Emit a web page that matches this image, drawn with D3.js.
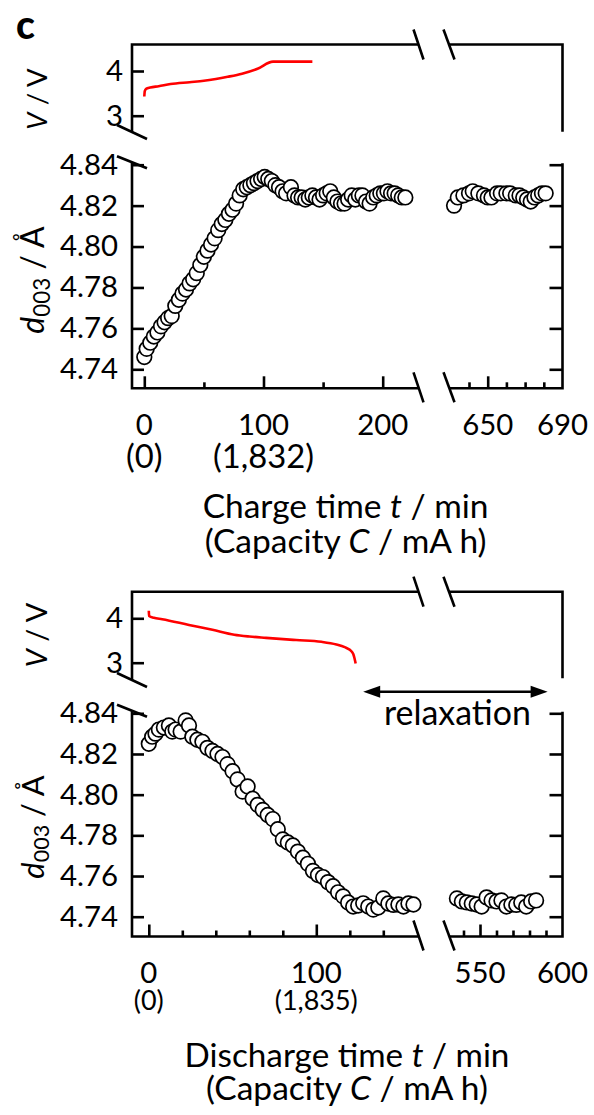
<!DOCTYPE html>
<html><head><meta charset="utf-8">
<script src="https://cdn.jsdelivr.net/npm/d3@7"></script>
<style>
body{margin:0;background:#fff}
svg{display:block;background:#fff}
text{font-family:Lato,'Open Sans','Noto Sans',sans-serif;fill:#000}
</style>
</head><body>
<svg id="chart" width="594" height="1115"></svg>
<script>
// ---------------- DATA ----------------
// Charge: d003 spacing vs charge time (min), left of axis break
const chargeTime = [0,2,5,8,11,14,17,20,23,26,29,32,35,38,41,44,47,50,53,56,59,62,65,68,71,74,77,80,83,86,89,92,95,98,101,104,107,110,113,116,119,123,126,129,132,135,138,141,144,147,150,153,156,159,162,165,168,171,174,177,180,183,186,189,192,195,198,201,204,207,210,213,216,219];
const chargeD = [4.746,4.750,4.753,4.756,4.758,4.761,4.763,4.765,4.766,4.771,4.774,4.777,4.779,4.782,4.784,4.787,4.791,4.795,4.798,4.801,4.804,4.808,4.811,4.813,4.816,4.818,4.821,4.825,4.828,4.829,4.830,4.831,4.832,4.833,4.834,4.833,4.832,4.830,4.829,4.827,4.826,4.829,4.825,4.824,4.824,4.823,4.824,4.825,4.824,4.823,4.825,4.826,4.827,4.824,4.822,4.821,4.821,4.823,4.825,4.823,4.825,4.825,4.822,4.821,4.824,4.825,4.826,4.826,4.827,4.826,4.826,4.825,4.824,4.824];
// Charge: right of axis break
const chargeTimeLate = [632,634,637,640,642,645,648,650,652,655,657,660,662,665,667,669,671,673,675,677,679,681];
const chargeDLate = [4.820,4.824,4.825,4.826,4.827,4.826,4.825,4.824,4.824,4.826,4.826,4.826,4.826,4.825,4.825,4.824,4.823,4.822,4.824,4.825,4.826,4.826];
// Charge voltage
const chargeVTime = [0,0.4,1.5,5,12,22,38,50,60,70,82,95,108,141];
const chargeV = [3.43,3.55,3.60,3.63,3.66,3.71,3.75,3.78,3.82,3.87,3.94,4.05,4.21,4.21];

// Discharge: d003 vs discharge time
const dischargeTime = [0,2,4,6,9,12,14,16,19,22,24,26,29,32,35,38,41,44,47,50,53,56,59,62,65,68,71,74,77,80,83,86,89,92,95,98,101,104,107,110,113,116,119,122,125,128,131,134,137,140,143,146,149,152,155,158];
const dischargeD = [4.825,4.8285,4.830,4.832,4.833,4.834,4.831,4.832,4.831,4.8365,4.834,4.8285,4.827,4.826,4.823,4.8215,4.820,4.8185,4.815,4.8115,4.8075,4.8015,4.804,4.798,4.795,4.7925,4.790,4.788,4.783,4.778,4.7765,4.775,4.772,4.769,4.766,4.7625,4.7605,4.7595,4.757,4.755,4.752,4.750,4.747,4.745,4.7455,4.7466,4.745,4.7435,4.7445,4.749,4.7465,4.7458,4.746,4.745,4.7465,4.746];
const dischargeTimeLate = [536,539,542,545,548,551,554,557,560,563,566,569,572,575,578,581,584];
const dischargeDLate = [4.749,4.7475,4.747,4.7465,4.746,4.745,4.7495,4.748,4.7475,4.748,4.745,4.746,4.7458,4.747,4.745,4.7475,4.748];
// Discharge voltage
const dischargeVTime = [0,0.2,3,8,24,38,51,60,70,88,103,112,117,120,122,122.8,123.5];
const dischargeV = [4.17,4.05,4.01,3.98,3.85,3.74,3.63,3.59,3.56,3.51,3.47,3.41,3.35,3.29,3.20,3.10,2.98];

// Relaxation annotation (min): start on left segment, end on right segment
const relaxStart = 128, relaxEnd = 591;

// Ticks & labels
const dTicks = [4.74,4.76,4.78,4.80,4.82,4.84];
const vTicks = [3,4];
const chargeMajorL = [0,100,200], chargeMinorL = [50,150];
const chargeMajorR = [650], chargeMinorR = [640,660,670,680];
const chargeLabelsL = [0,100,200], chargeLabelsR = [650,690];
const chargeCapPos = [0,100], chargeCapLabels = ['(0)','(1,832)'];
const dischargeMajorL = [0,100], dischargeMinorL = [20,40,60,80,120,140];
const dischargeMajorR = [550], dischargeMinorR = [540,560,570,580,590];
const dischargeLabelsL = [0,100], dischargeLabelsR = [550,600];
const dischargeCapPos = [0,100], dischargeCapLabels = ['(0)','(1,835)'];

// ---------------- DRAWING ----------------
const svg = d3.select('#chart');
const LW = 2.6;

function fitSize(sel, target) {
  const w = sel.node().getBBox().width;
  const fs = parseFloat(sel.attr('font-size'));
  sel.attr('font-size', fs * target / w);
  return fs * target / w;
}
function measureSize(str, target) {
  const t = svg.append('text').attr('font-size', 30).text(str);
  const s = fitSize(t, target); t.remove(); return s;
}
const tickFS = measureSize('4.84', 58);

function drawChart(c) {
  const g = svg.append('g');
  const axisX = 132, rightX = 562.5, brA = 418.5, brB = 449;
  const yV = d3.scaleLinear().domain([3,4]).range([c.v3, c.v4]);
  const yD = d3.scaleLinear().domain([4.74,4.84]).range([c.d74, c.d84]);
  const xL = d3.scaleLinear().domain([0,100]).range(c.xL);
  const xR = d3.scaleLinear().domain(c.xRdom).range(c.xR);

  const line = (d) => g.append('path').attr('d', d).attr('fill','none').attr('stroke','#000').attr('stroke-width',LW).attr('stroke-linecap','butt');
  // V panel frame
  line(`M${axisX},${c.vBreakY}V${c.vTop}H${brA}M${brB},${c.vTop}H${rightX}V${c.vRightBottom}`);
  // d panel frame
  line(`M${axisX},${c.d84-2}V${c.axisY}H${brA}M${brB},${c.axisY}H${rightX}V${c.d84-1.5}`);
  // break slashes
  const slash = (x,y,dx,dy) => line(`M${x-dx},${y-dy}L${x+dx},${y+dy}`);
  slash(axisX, c.vBreakY, 15, 7);
  slash(axisX, c.d84-2.5, 15, 6);
  slash(brA, c.vTop, 5, 15); slash(brB, c.vTop, 5.5, 15);
  slash(brA, c.axisY-1, 5, 15); slash(brB, c.axisY-1, 5.5, 15);

  const styleAxis = (s) => { s.select('.domain').remove(); s.selectAll('line').attr('stroke','#000').attr('stroke-width',LW); s.selectAll('text').attr('font-family',null).attr('font-size',tickFS).attr('fill','#000'); };
  // y axes
  g.append('g').attr('transform',`translate(${axisX},0)`)
    .call(d3.axisLeft(yD).tickValues(dTicks).tickSize(-12).tickPadding(14).tickFormat(d3.format('.2f'))).call(styleAxis);
  g.append('g').attr('transform',`translate(${rightX},0)`)
    .call(d3.axisRight(yD).tickValues(dTicks).tickSize(-13).tickFormat('')).call(styleAxis);
  g.append('g').attr('transform',`translate(${axisX},0)`)
    .call(d3.axisLeft(yV).tickValues(vTicks).tickSize(-12).tickPadding(9).tickFormat(d3.format('d'))).call(styleAxis);
  // x axes ticks
  const xt = (scale, vals, size) => g.append('g').attr('transform',`translate(0,${c.axisY})`)
    .call(d3.axisBottom(scale).tickValues(vals).tickSize(-size).tickFormat('')).call(styleAxis);
  xt(xL, c.majorL, 12); xt(xL, c.minorL, 6); xt(xR, c.majorR, 12); xt(xR, c.minorR, 6);
  // x tick labels
  const lab = (scale, vals, fmt, y, fs) => g.selectAll(null).data(vals).enter().append('text')
    .attr('x', d => scale(d)).attr('y', y).attr('text-anchor','middle').attr('font-size', fs).text(fmt);
  lab(xL, c.labelsL, d => d, c.tickBase, tickFS);
  lab(xR, c.labelsR, d => d, c.tickBase, tickFS);
  const capFS = measureSize(c.capLabels[1], c.capWidth);
  g.selectAll(null).data(c.capPos).enter().append('text')
    .attr('x', d => xL(d)).attr('y', c.capBase).attr('text-anchor','middle').attr('font-size', capFS)
    .text((d,i) => c.capLabels[i]);

  // voltage curve
  g.append('path').datum(c.vt.map((t,i)=>[t,c.v[i]]))
    .attr('d', d3.line().x(d=>xL(d[0])).y(d=>yV(d[1])).curve(d3.curveMonotoneX))
    .attr('fill','none').attr('stroke','#ff0000').attr('stroke-width',2.6);

  // markers
  const pts = c.t.map((t,i)=>({x:xL(t), y:yD(c.d[i])})).concat(c.tLate.map((t,i)=>({x:xR(t), y:yD(c.dLate[i])})));
  g.selectAll(null).data(pts).enter().append('circle')
    .attr('cx', d=>d.x).attr('cy', d=>d.y).attr('r', 7.3)
    .attr('fill','#fff').attr('stroke','#000').attr('stroke-width',1.7);

  // rotated y titles
  const vt = g.append('text').attr('transform',`translate(${c.vLabelX},${c.vLabelY}) rotate(-90)`)
    .attr('text-anchor','middle').attr('font-size',30);
  vt.append('tspan').attr('font-style','italic').text('V');
  vt.append('tspan').text(' / V');
  fitSize(vt, c.vLabelW);
  const dt = g.append('text').attr('transform',`translate(${c.dLabelX},${c.dLabelY}) rotate(-90)`)
    .attr('text-anchor','middle').attr('font-size',30);
  dt.append('tspan').attr('font-style','italic').text('d');
  dt.append('tspan').attr('font-size','0.7em').attr('dy','0.25em').text('003');
  dt.append('tspan').attr('dy','-0.175em').text(' / Å');
  fitSize(dt, c.dLabelW);

  // x titles
  const t1 = g.append('text').attr('x', c.titleX).attr('y', c.title1Base).attr('text-anchor','middle').attr('font-size',30);
  t1.append('tspan').text(c.title + ' time ');
  t1.append('tspan').attr('font-style','italic').text('t');
  t1.append('tspan').text(' / min');
  fitSize(t1, c.title1W);
  const t2 = g.append('text').attr('x', c.titleX).attr('y', c.title2Base).attr('text-anchor','middle').attr('font-size',30);
  t2.append('tspan').text('(Capacity ');
  t2.append('tspan').attr('font-style','italic').text('C');
  t2.append('tspan').text(' / mA h)');
  fitSize(t2, c.title2W);

  return {g, xL, xR, yV, yD};
}

// panel letter
svg.append('text').attr('x',16).attr('y',39).attr('font-size',39).attr('font-weight',900).text('c');

drawChart({
  vTop:44.5, v4:71, v3:115.7, vRightBottom:131.7, vBreakY:132,
  d84:164.7, d74:369.3, axisY:388.3,
  xL:[144.3,263.5], xRdom:[650,690], xR:[487.7,562.5],
  majorL:chargeMajorL, minorL:chargeMinorL, majorR:chargeMajorR, minorR:chargeMinorR,
  labelsL:chargeLabelsL, labelsR:chargeLabelsR, capPos:chargeCapPos, capLabels:chargeCapLabels, capWidth:101,
  tickBase:435, capBase:468,
  t:chargeTime, d:chargeD, tLate:chargeTimeLate, dLate:chargeDLate, vt:chargeVTime, v:chargeV,
  vLabelX:47, vLabelY:99, vLabelW:62, dLabelX:44, dLabelY:280, dLabelW:108,
  title:'Charge', titleX:345.6, title1Base:518.3, title2Base:553.3, title1W:286, title2W:282
});

const bot = drawChart({
  vTop:591.7, v4:618.3, v3:662.7, vRightBottom:678.3, vBreakY:680,
  d84:713.3, d74:916.7, axisY:936.5,
  xL:[148.8,316.3], xRdom:[550,600], xR:[480,562.5],
  majorL:dischargeMajorL, minorL:dischargeMinorL, majorR:dischargeMajorR, minorR:dischargeMinorR,
  labelsL:dischargeLabelsL, labelsR:dischargeLabelsR, capPos:dischargeCapPos, capLabels:dischargeCapLabels, capWidth:83,
  tickBase:983.3, capBase:1010,
  t:dischargeTime, d:dischargeD, tLate:dischargeTimeLate, dLate:dischargeDLate, vt:dischargeVTime, v:dischargeV,
  vLabelX:47, vLabelY:635, vLabelW:65, dLabelX:44, dLabelY:827, dLabelW:104,
  title:'Discharge', titleX:347, title1Base:1066.7, title2Base:1100, title1W:325, title2W:282
});

// relaxation arrow
(function(){
  const g = bot.g, y = 691.7;
  const x1 = bot.xL(relaxStart), x2 = bot.xR(relaxEnd);
  const hl = 17, hw = 6;
  g.append('path').attr('d',`M${x1+hl-2},${y}H${x2-hl+2}`).attr('stroke','#000').attr('stroke-width',LW);
  g.append('path').attr('d',`M${x1},${y}L${x1+hl},${y-hw}L${x1+hl},${y+hw}Z`).attr('fill','#000');
  g.append('path').attr('d',`M${x2},${y}L${x2-hl},${y-hw}L${x2-hl},${y+hw}Z`).attr('fill','#000');
  const t = g.append('text').attr('x',(x1+x2)/2+2).attr('y',725).attr('text-anchor','middle').attr('font-size',30).text('relaxation');
  fitSize(t, 147);
})();
</script>
</body></html>
